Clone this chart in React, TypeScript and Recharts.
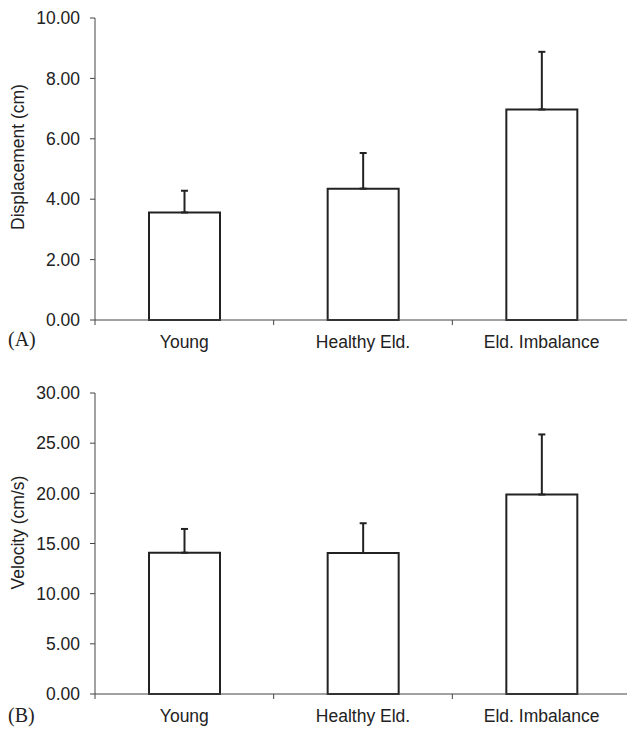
import { BarChart, Bar, XAxis, YAxis, ErrorBar } from 'recharts';

const categories = ['Young', 'Healthy Eld.', 'Eld. Imbalance'];
const displacement = [3.56, 4.35, 6.97];
const displacementSD = [0.72, 1.18, 1.91];
const velocity = [14.08, 14.05, 19.88];
const velocitySD = [2.37, 2.97, 5.99];
const displacementTicks = [0, 2, 4, 6, 8, 10];
const velocityTicks = [0, 5, 10, 15, 20, 25, 30];

const SANS = '"Liberation Sans", Arial, Helvetica, sans-serif';
const INK = '#222';
const AXIS = '#444';
const FS = 17.5;

// category label + boundary ticks (ticks sit between the groups, not under them)
const CategoryTick = (props: any) => {
  const { x, y, payload, index, visibleTicksCount, width } = props;
  const half = payload?.offset ?? width / (visibleTicksCount || 1) / 2;
  return (
    <g>
      <line x1={x - half} y1={y} x2={x - half} y2={y + 5} stroke={AXIS} strokeWidth={1} />
      {index === visibleTicksCount - 1 && (
        <line x1={x + half} y1={y} x2={x + half} y2={y + 5} stroke={AXIS} strokeWidth={1} />
      )}
      <text x={x} y={y + 28} textAnchor="middle" fill={INK} fontSize={FS} fontFamily={SANS}>
        {payload.value}
      </text>
    </g>
  );
};

interface PanelProps {
  values: number[];
  errors: number[];
  ticks: number[];
  yLabel: string;
  labelShift: number;
  tag: string;
  height: number;
  top: number;
}

function Panel({ values, errors, ticks, yLabel, labelShift, tag, height, top }: PanelProps) {
  const data = categories.map((name, i) => ({ name, value: values[i], err: [0, errors[i]] }));
  const yMax = ticks[ticks.length - 1];

  return (
    <div style={{ position: 'relative', width: 627, height }}>
      <BarChart
        width={627}
        height={height}
        data={data}
        barSize={71}
        margin={{ top, right: -4, bottom: 0, left: 0 }}
      >
        <XAxis
          dataKey="name"
          height={35}
          tickSize={0}
          tickMargin={0}
          tickLine={false}
          axisLine={{ stroke: AXIS, strokeWidth: 1 }}
          tick={<CategoryTick />}
          interval={0}
        />
        <YAxis
          domain={[0, yMax]}
          ticks={ticks}
          width={95}
          tickSize={5}
          tickMargin={10}
          tickFormatter={(v: number) => v.toFixed(2)}
          axisLine={{ stroke: AXIS, strokeWidth: 1 }}
          tickLine={{ stroke: AXIS, strokeWidth: 1 }}
          tick={{ fill: INK, fontSize: FS, fontFamily: SANS }}
          label={{
            content: (p: any) => {
              const vb = p.viewBox || {};
              const cx = (vb.x ?? 0) + 18;
              const cy = (vb.y ?? 0) + (vb.height ?? 0) / 2 + labelShift;
              return (
                <text
                  x={cx}
                  y={cy}
                  transform={`rotate(-90 ${cx} ${cy})`}
                  textAnchor="middle"
                  dominantBaseline="central"
                  fill={INK}
                  fontSize={FS}
                  fontFamily={SANS}
                >
                  {yLabel}
                </text>
              );
            },
          }}
        />
        <Bar dataKey="value" fill="#fff" stroke={INK} strokeWidth={2} isAnimationActive={false}>
          <ErrorBar dataKey="err" width={3.5} stroke={INK} strokeWidth={2} direction="y" isAnimationActive={false} />
        </Bar>
      </BarChart>
      <div
        style={{
          position: 'absolute',
          left: 8,
          bottom: height === 355 ? 6 : 4,
          fontFamily: '"Liberation Serif", "Times New Roman", serif',
          fontSize: 20,
          color: INK,
          lineHeight: 1,
        }}
      >
        {tag}
      </div>
    </div>
  );
}

export default function App() {
  return (
    <div style={{ position: 'absolute', left: 0, top: 0, width: 627, height: 730, background: '#fff' }}>
      <Panel
        values={displacement}
        errors={displacementSD}
        ticks={displacementTicks}
        yLabel="Displacement (cm)"
        labelShift={-12}
        tag="(A)"
        height={355}
        top={18}
      />
      <Panel
        values={velocity}
        errors={velocitySD}
        ticks={velocityTicks}
        yLabel="Velocity (cm/s)"
        labelShift={-11}
        tag="(B)"
        height={374}
        top={38}
      />
    </div>
  );
}
